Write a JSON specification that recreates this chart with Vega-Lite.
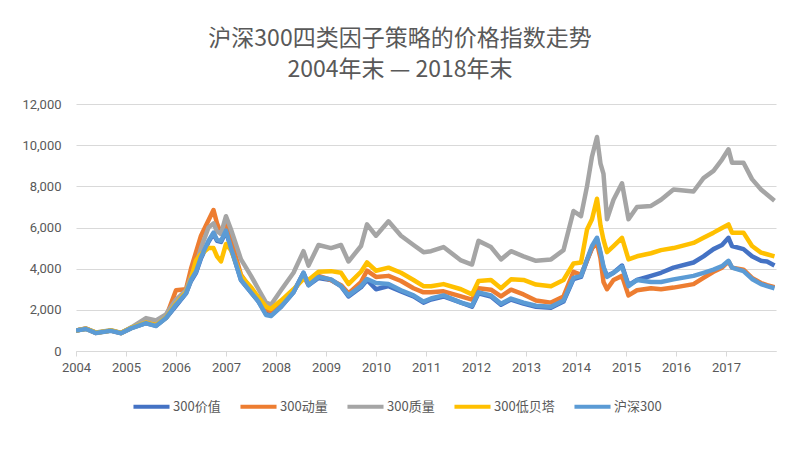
{
  "$schema": "https://vega.github.io/schema/vega-lite/v6.json",
  "width": 700,
  "height": 247,
  "autosize": "none",
  "padding": {"left": 76, "top": 104, "right": 24, "bottom": 100},
  "background": "white",
  "title": {
    "text": ["沪深300四类因子策略的价格指数走势", "2004年末 — 2018年末"],
    "font": "Noto Sans CJK SC",
    "fontSize": 23,
    "fontWeight": "normal",
    "color": "#595959",
    "lineHeight": 31,
    "anchor": "middle",
    "dx": -26,
    "offset": 16
  },
  "datasets": {
    "idx": [
      {"t": 2004.0, "300价值": 1000, "300动量": 1000, "300质量": 1000, "300低贝塔": 1000, "沪深300": 1000},
      {"t": 2004.2, "300价值": 1080, "300动量": 1090, "300质量": 1090, "300低贝塔": 1080, "沪深300": 1070},
      {"t": 2004.4, "300价值": 880, "300动量": 880, "300质量": 900, "300低贝塔": 890, "沪深300": 870},
      {"t": 2004.7, "300价值": 990, "300动量": 990, "300质量": 1010, "300低贝塔": 1000, "沪深300": 980},
      {"t": 2004.9, "300价值": 870, "300动量": 870, "300质量": 880, "300低贝塔": 880, "沪深300": 860},
      {"t": 2005.1, "300价值": 1110, "300动量": 1120, "300质量": 1140, "300低贝塔": 1120, "沪深300": 1100},
      {"t": 2005.4, "300价值": 1350, "300动量": 1400, "300质量": 1600, "300低贝塔": 1380, "沪深300": 1350},
      {"t": 2005.6, "300价值": 1230, "300动量": 1280, "300质量": 1480, "300低贝塔": 1250, "沪深300": 1210},
      {"t": 2005.8, "300价值": 1600, "300动量": 1650, "300质量": 1780, "300低贝塔": 1620, "沪深300": 1600},
      {"t": 2006.0, "300价值": 2200, "300动量": 2950, "300质量": 2500, "300低贝塔": 2300, "沪深300": 2250},
      {"t": 2006.2, "300价值": 2800, "300动量": 3000, "300质量": 2950, "300低贝塔": 2850, "沪深300": 2800},
      {"t": 2006.3, "300价值": 3400, "300动量": 4000, "300质量": 3600, "300低贝塔": 3500, "沪深300": 3450},
      {"t": 2006.4, "300价值": 3800, "300动量": 4800, "300质量": 4200, "300低贝塔": 4400, "沪深300": 3850},
      {"t": 2006.5, "300价值": 4500, "300动量": 5600, "300质量": 5000, "300低贝塔": 4700, "沪深300": 4550},
      {"t": 2006.65, "300价值": 5300, "300动量": 6350, "300质量": 6000, "300低贝塔": 5000, "沪深300": 5350},
      {"t": 2006.75, "300价值": 5700, "300动量": 6850, "300质量": 6200, "300低贝塔": 5000, "沪深300": 5750},
      {"t": 2006.82, "300价值": 5350, "300动量": 6200, "300质量": 5800, "300低贝塔": 4600, "沪深300": 5400},
      {"t": 2006.9, "300价值": 5300, "300动量": 5700, "300质量": 5700, "300低贝塔": 4350, "沪深300": 5350},
      {"t": 2007.0, "300价值": 5800, "300动量": 6300, "300质量": 6550, "300低贝塔": 5200, "沪深300": 5850},
      {"t": 2007.1, "300价值": 5000, "300动量": 5400, "300质量": 5900, "300低贝塔": 4900, "沪深300": 5000},
      {"t": 2007.3, "300价值": 3450, "300动量": 3700, "300质量": 4450, "300低贝塔": 3650, "沪深300": 3450},
      {"t": 2007.5, "300价值": 2850, "300动量": 3000, "300质量": 3650, "300低贝塔": 3100, "沪深300": 2850},
      {"t": 2007.65, "300价值": 2400, "300动量": 2600, "300质量": 3000, "300低贝塔": 2600, "沪深300": 2400},
      {"t": 2007.8, "300价值": 1800, "300动量": 2000, "300质量": 2350, "300低贝塔": 2150, "沪深300": 1750},
      {"t": 2007.9, "300价值": 1750, "300动量": 1950, "300质量": 2250, "300低贝塔": 2050, "沪深300": 1700},
      {"t": 2008.1, "300价值": 2150, "300动量": 2400, "300质量": 2950, "300低贝塔": 2450, "沪深300": 2150},
      {"t": 2008.35, "300价值": 2850, "300动量": 2950, "300质量": 3800, "300低贝塔": 3000, "沪深300": 2850},
      {"t": 2008.55, "300价值": 3800, "300动量": 3600, "300质量": 4850, "300低贝塔": 3500, "沪深300": 3800},
      {"t": 2008.65, "300价值": 3200, "300动量": 3250, "300质量": 4150, "300低贝塔": 3450, "沪深300": 3200},
      {"t": 2008.85, "300价值": 3550, "300动量": 3650, "300质量": 5150, "300低贝塔": 3850, "沪深300": 3600},
      {"t": 2009.1, "300价值": 3450, "300动量": 3450, "300质量": 5000, "300低贝塔": 3880, "沪深300": 3480},
      {"t": 2009.3, "300价值": 3150, "300动量": 3200, "300质量": 5150, "300低贝塔": 3800, "沪深300": 3150},
      {"t": 2009.45, "300价值": 2650, "300动量": 2800, "300质量": 4350, "300低贝塔": 3250, "沪深300": 2700},
      {"t": 2009.7, "300价值": 3100, "300动量": 3350, "300质量": 5100, "300低贝塔": 3850, "沪深300": 3150},
      {"t": 2009.82, "300价值": 3450, "300动量": 3900, "300质量": 6150, "300低贝塔": 4300, "沪深300": 3500},
      {"t": 2010.0, "300价值": 3000, "300动量": 3600, "300质量": 5600, "300低贝塔": 3900, "沪深300": 3300},
      {"t": 2010.25, "300价值": 3150, "300动量": 3650, "300质量": 6300, "300低贝塔": 4050, "沪深300": 3250},
      {"t": 2010.5, "300价值": 2900, "300动量": 3400, "300质量": 5600, "300低贝塔": 3800, "沪深300": 2950},
      {"t": 2010.75, "300价值": 2650, "300动量": 3050, "300质量": 5150, "300低贝塔": 3450, "沪深300": 2700},
      {"t": 2010.95, "300价值": 2350, "300动量": 2850, "300质量": 4800, "300低贝塔": 3150, "沪深300": 2400},
      {"t": 2011.1, "300价值": 2500, "300动量": 2850, "300质量": 4850, "300低贝塔": 3150, "沪深300": 2550},
      {"t": 2011.35, "300价值": 2650, "300动量": 2900, "300质量": 5050, "300低贝塔": 3250, "沪深300": 2700},
      {"t": 2011.7, "300价值": 2350, "300动量": 2650, "300质量": 4400, "300低贝塔": 3000, "沪深300": 2350},
      {"t": 2011.92, "300价值": 2150, "300动量": 2500, "300质量": 4200, "300低贝塔": 2750, "沪深300": 2200},
      {"t": 2012.05, "300价值": 2800, "300动量": 3050, "300质量": 5350, "300低贝塔": 3400, "沪深300": 2850},
      {"t": 2012.3, "300价值": 2650, "300动量": 2980, "300质量": 5050, "300低贝塔": 3450, "沪深300": 2700},
      {"t": 2012.5, "300价值": 2250, "300动量": 2650, "300质量": 4450, "300低贝塔": 3050, "沪深300": 2300},
      {"t": 2012.7, "300价值": 2500, "300动量": 2980, "300质量": 4850, "300低贝塔": 3480, "沪深300": 2550},
      {"t": 2012.95, "300价值": 2300, "300动量": 2750, "300质量": 4600, "300低贝塔": 3450, "沪深300": 2350},
      {"t": 2013.2, "300价值": 2150, "300动量": 2450, "300质量": 4380, "300低贝塔": 3230, "沪深300": 2200},
      {"t": 2013.5, "300价值": 2100, "300动量": 2350, "300质量": 4450, "300低贝塔": 3150, "沪深300": 2150},
      {"t": 2013.75, "300价值": 2400, "300动量": 2650, "300质量": 4900, "300低贝塔": 3450, "沪深300": 2450},
      {"t": 2013.95, "300价值": 3500, "300动量": 3850, "300质量": 6800, "300低贝塔": 4250, "沪深300": 3550},
      {"t": 2014.1, "300价值": 3600, "300动量": 3700, "300质量": 6550, "300低贝塔": 4300, "沪深300": 3650},
      {"t": 2014.22, "300价值": 4400, "300动量": 4400, "300质量": 8000, "300低贝塔": 5900, "沪深300": 4450},
      {"t": 2014.32, "300价值": 5000, "300动量": 5000, "300质量": 9450, "300低贝塔": 6400, "沪深300": 5100},
      {"t": 2014.42, "300价值": 5450, "300动量": 5250, "300质量": 10400, "300低贝塔": 7400, "沪深300": 5500},
      {"t": 2014.49, "300价值": 4700, "300动量": 4500, "300质量": 9100, "300低贝塔": 6100, "沪深300": 4800},
      {"t": 2014.55, "300价值": 4050, "300动量": 3350, "300质量": 8600, "300低贝塔": 5400, "沪深300": 4100},
      {"t": 2014.62, "300价值": 3650, "300动量": 3000, "300质量": 6400, "300低贝塔": 4800, "沪深300": 3600},
      {"t": 2014.75, "300价值": 3800, "300动量": 3450, "300质量": 7350, "300低贝塔": 5100, "沪深300": 3800},
      {"t": 2014.92, "300价值": 4150, "300动量": 3650, "300质量": 8150, "300低贝塔": 5500, "沪深300": 4100},
      {"t": 2015.05, "300价值": 3200, "300动量": 2700, "300质量": 6400, "300低贝塔": 4450, "沪深300": 3150},
      {"t": 2015.22, "300价值": 3450, "300动量": 2950, "300质量": 7000, "300低贝塔": 4600, "沪深300": 3450},
      {"t": 2015.5, "300价值": 3650, "300动量": 3050, "300质量": 7050, "300低贝塔": 4750, "沪深300": 3350},
      {"t": 2015.7, "300价值": 3800, "300动量": 3000, "300质量": 7350, "300低贝塔": 4900, "沪深300": 3350},
      {"t": 2015.95, "300价值": 4050, "300动量": 3080, "300质量": 7850, "300低贝塔": 5000, "沪深300": 3480},
      {"t": 2016.35, "300价值": 4300, "300动量": 3250, "300质量": 7750, "300低贝塔": 5250, "沪深300": 3650},
      {"t": 2016.55, "300价值": 4600, "300动量": 3550, "300质量": 8400, "300低贝塔": 5500, "沪深300": 3800},
      {"t": 2016.75, "300价值": 4950, "300动量": 3850, "300质量": 8750, "300低贝塔": 5750, "沪深300": 3950},
      {"t": 2016.92, "300价值": 5150, "300动量": 4050, "300质量": 9300, "300低贝塔": 5980, "沪深300": 4120},
      {"t": 2017.05, "300价值": 5500, "300动量": 4350, "300质量": 9800, "300低贝塔": 6150, "沪深300": 4380},
      {"t": 2017.12, "300价值": 5100, "300动量": 4050, "300质量": 9150, "300低贝塔": 5750, "沪深300": 4050},
      {"t": 2017.35, "300价值": 4950, "300动量": 3950, "300质量": 9150, "300低贝塔": 5750, "沪深300": 3880},
      {"t": 2017.52, "300价值": 4600, "300动量": 3550, "300质量": 8350, "300低贝塔": 5100, "沪深300": 3500},
      {"t": 2017.7, "300价值": 4380, "300动量": 3300, "300质量": 7850, "300低贝塔": 4780, "沪深300": 3250},
      {"t": 2017.82, "300价值": 4350, "300动量": 3200, "300质量": 7600, "300低贝塔": 4700, "沪深300": 3150},
      {"t": 2017.97, "300价值": 4150, "300动量": 3100, "300质量": 7300, "300低贝塔": 4600, "沪深300": 3050}
    ]
  },
  "data": {"name": "idx"},
  "transform": [
    {"fold": ["300价值", "300动量", "300质量", "300低贝塔", "沪深300"], "as": ["s", "v"]}
  ],
  "mark": {"type": "line", "strokeWidth": 4.5, "strokeJoin": "round", "clip": true},
  "encoding": {
    "x": {
      "field": "t", "type": "quantitative",
      "scale": {"domain": [2004, 2018], "nice": false, "zero": false},
      "axis": {
        "title": null,
        "values": [2004, 2005, 2006, 2007, 2008, 2009, 2010, 2011, 2012, 2013, 2014, 2015, 2016, 2017],
        "format": "d",
        "grid": false,
        "labelFlush": false,
        "domainColor": "#d9d9d9",
        "tickColor": "#d9d9d9",
        "tickSize": 5,
        "labelFont": "Roboto",
        "labelFontSize": 13,
        "labelColor": "#595959",
        "labelPadding": 5
      }
    },
    "y": {
      "field": "v", "type": "quantitative",
      "scale": {"domain": [0, 12000], "nice": false},
      "axis": {
        "title": null,
        "values": [0, 2000, 4000, 6000, 8000, 10000, 12000],
        "format": ",d",
        "domain": false,
        "ticks": false,
        "gridColor": "#d9d9d9",
        "labelFont": "Roboto",
        "labelFontSize": 13,
        "labelColor": "#595959",
        "labelPadding": 15
      }
    },
    "color": {
      "field": "s", "type": "nominal",
      "scale": {
        "domain": ["300价值", "300动量", "300质量", "300低贝塔", "沪深300"],
        "range": ["#4472C4", "#ED7D31", "#A5A5A5", "#FFC000", "#5B9BD5"]
      },
      "legend": {
        "title": null,
        "orient": "none",
        "direction": "horizontal",
        "legendX": 55,
        "legendY": 282,
        "symbolType": "stroke",
        "symbolStrokeWidth": 4,
        "symbolSize": 1300,
        "labelFont": "Noto Sans CJK SC",
        "labelFontSize": 13,
        "labelColor": "#595959",
        "labelOffset": 1,
        "columnPadding": 11
      }
    }
  },
  "config": {"view": {"stroke": null}}
}
